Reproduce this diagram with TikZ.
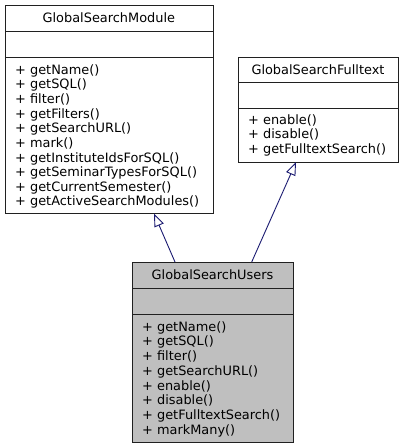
\documentclass[tikz,border=0pt]{standalone}
\usepackage{fontspec}
\setmainfont{DejaVu Sans}
\usetikzlibrary{arrows.meta}
\definecolor{edgeblue}{HTML}{191970}
\definecolor{boxline}{HTML}{202020}
\definecolor{boxfill}{HTML}{BFBFBF}
\tikzset{
  umlbox/.style={draw=boxline, line width=0.9pt, inner sep=0pt, anchor=north west},
  divider/.style={draw=boxline, line width=0.9pt},
  txt/.style={inner sep=0pt, font=\fontsize{12.9}{14.65}\selectfont},
  title/.style={txt, anchor=base},
  member/.style={txt, anchor=base west},
  inherit/.style={draw=edgeblue, line width=0.9pt, -{Triangle[open, length=13pt, width=10pt, fill=white]}},
}
\begin{document}
\begin{tikzpicture}[x=1pt, y=-1pt]
\useasboundingbox (0,0) rectangle (405,448);
% GlobalSearchModule
\node[umlbox, minimum width=207.7pt, minimum height=208pt] (gsm) at (5,5) {};
\draw[divider] (5,31) -- (212.7,31);
\draw[divider] (5,57) -- (212.7,57);
\node[title] (gsmt) at (108.85,22.7) {GlobalSearchModule};
\foreach \m [count=\i from 0] in {getName(), getSQL(), filter(), getFilters(), getSearchURL(), mark(), getInstituteIdsForSQL(), getSeminarTypesForSQL(), getCurrentSemester(), getActiveSearchModules()}
  \node[member] (gsm\i) at (15, 74.3+14.63*\i) {+ \m};
% GlobalSearchFulltext
\node[umlbox, minimum width=160pt, minimum height=105pt] (gsf) at (238,56.7) {};
\draw[divider] (238,82) -- (398,82);
\draw[divider] (238,108) -- (398,108);
\node[title] (gsft) at (318,74) {GlobalSearchFulltext};
\foreach \m [count=\i from 0] in {enable(), disable(), getFulltextSearch()}
  \node[member] (gsf\i) at (248, 124.6+14.3*\i) {+ \m};
% GlobalSearchUsers
\node[umlbox, fill=boxfill, minimum width=161pt, minimum height=179.7pt] (gsu) at (132,262) {};
\draw[divider] (132,288) -- (293,288);
\draw[divider] (132,314) -- (293,314);
\node[title] (gsut) at (212.5,279.7) {GlobalSearchUsers};
\foreach \m [count=\i from 0] in {getName(), getSQL(), filter(), getSearchURL(), enable(), disable(), getFulltextSearch(), markMany()}
  \node[member] (gsu\i) at (142, 331+14.76*\i) {+ \m};
% inheritance
\coordinate (a1s) at (175,262);
\coordinate (a1e) at (154,213.5);
\coordinate (a2s) at (251.7,262);
\coordinate (a2e) at (296,162.2);
\draw[inherit] (a1s) -- (a1e);
\draw[inherit] (a2s) -- (a2e);
\end{tikzpicture}
\end{document}
